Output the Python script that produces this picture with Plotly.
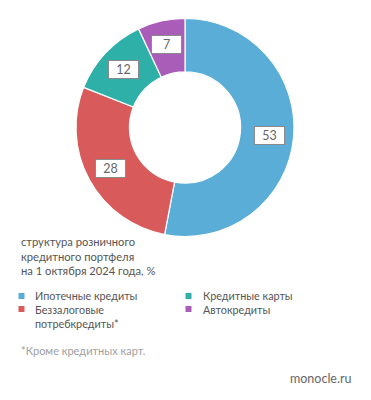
import math
import plotly.graph_objects as go

categories = ["Ипотечные кредиты", "Беззалоговые потребкредиты*", "Кредитные карты", "Автокредиты"]
legend_labels = ["Ипотечные кредиты", "Беззалоговые<br>потребкредиты*", "Кредитные карты", "Автокредиты"]
values = [53, 28, 12, 7]
colors = ["#5aadd6", "#d95a5a", "#2eb0a9", "#a95cb8"]

W, H = 371, 400
cx, cy, R = 185, 127.5, 109  # pixels (y from top)
FONT = "Lato"
TXT = "#555555"

fig = go.Figure()
fig.add_trace(go.Pie(
    labels=categories, values=values, hole=0.51, sort=False, direction="clockwise",
    rotation=0, marker=dict(colors=colors, line=dict(color="white", width=1.2)),
    textinfo="none", hoverinfo="label+value", showlegend=False,
    domain=dict(x=[(cx - R) / W, (cx + R) / W], y=[1 - (cy + R) / H, 1 - (cy - R) / H]),
))

annotations = []
# value labels in white boxes
total = sum(values)
cum = 0
rl = 85
for v in values:
    mid = (cum + v / 2) / total * 2 * math.pi
    cum += v
    px = cx + rl * math.sin(mid)
    py = cy - rl * math.cos(mid)
    annotations.append(dict(
        x=px / W, y=1 - py / H, xref="paper", yref="paper", xanchor="center", yanchor="middle",
        text=str(v), showarrow=False,
        font=dict(family=FONT, size=12.5, color="#666666"), bgcolor="white",
        bordercolor="#8a8a8a", borderwidth=1, borderpad=2, width=25, height=13,
    ))

# title text
annotations.append(dict(
    x=19 / W, y=1 - 232.5 / H, xref="paper", yref="paper", xanchor="left", yanchor="top",
    align="left", showarrow=False,
    text="структура розничного<br>кредитного портфеля<br>на 1 октября 2024 года, %",
    font=dict(family=FONT, size=11.2, color=TXT),
))

# legend squares
sq_pos = [(21.5, 296), (21.5, 309), (188.5, 296), (188.5, 309)]
shapes = []
for (lx, ly), col in zip(sq_pos, colors):
    shapes.append(dict(type="rect", xref="paper", yref="paper",
                       x0=(lx - 3) / W, x1=(lx + 3) / W,
                       y0=1 - (ly + 3) / H, y1=1 - (ly - 3) / H,
                       fillcolor=col, line=dict(width=0)))
# legend text columns
for tx, labs in ((33, legend_labels[:2]), (200.5, legend_labels[2:])):
    annotations.append(dict(
        x=tx / W, y=1 - 287 / H, xref="paper", yref="paper",
        xanchor="left", yanchor="top", align="left", showarrow=False,
        text="<br>".join(labs),
        font=dict(family=FONT, size=10.8, color=TXT),
    ))

annotations.append(dict(
    x=19 / W, y=1 - 350 / H, xref="paper", yref="paper", xanchor="left", yanchor="middle",
    showarrow=False, text="*Кроме кредитных карт.",
    font=dict(family=FONT, size=11, color="#a0a0a0"),
))
annotations.append(dict(
    x=353 / W, y=1 - 378 / H, xref="paper", yref="paper", xanchor="right", yanchor="middle",
    showarrow=False, text="monocle.ru",
    font=dict(family=FONT, size=12.5, color="#666666"),
))

fig.update_layout(
    width=W, height=H, margin=dict(l=0, r=0, t=0, b=0),
    paper_bgcolor="white", plot_bgcolor="white",
    annotations=annotations, shapes=shapes,
)
fig.write_html("out.html", config={"displayModeBar": False},
               post_script="document.body.style.margin='0';")
